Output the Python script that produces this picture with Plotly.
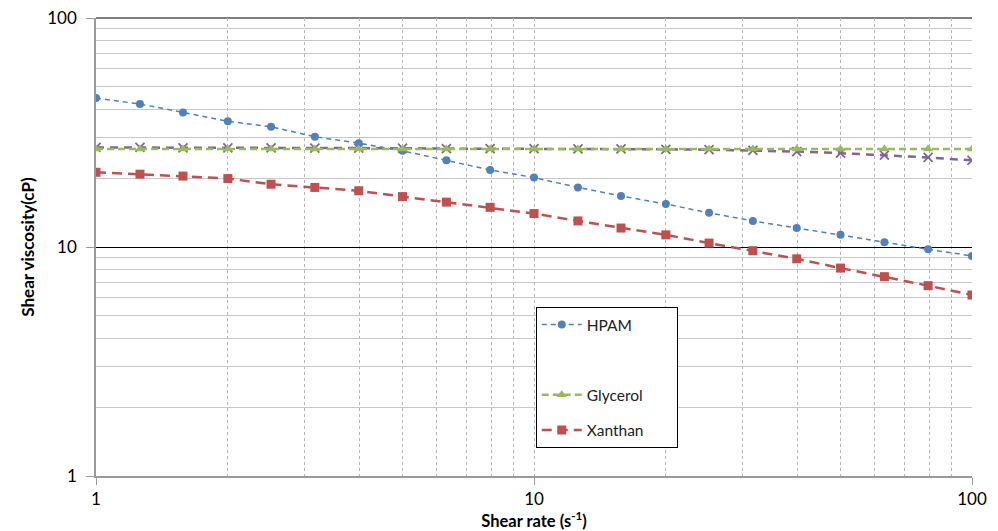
import plotly.graph_objects as go

shear_rate = [1, 1.26, 1.58, 2, 2.51, 3.16, 3.98, 5.01, 6.31, 7.94, 10,
              12.6, 15.8, 20, 25.1, 31.6, 39.8, 50.1, 63.1, 79.4, 100]
hpam = [44.7, 42.1, 38.7, 35.4, 33.5, 30.3, 28.4, 26.3, 23.9, 21.7, 20.1,
        18.2, 16.7, 15.4, 14.1, 13.0, 12.1, 11.3, 10.5, 9.77, 9.14]
xanthan = [21.2, 20.8, 20.4, 19.9, 18.8, 18.2, 17.6, 16.6, 15.7, 14.9, 14.0,
           13.0, 12.1, 11.3, 10.4, 9.64, 8.88, 8.09, 7.42, 6.78, 6.17]
glycerol = [26.8, 26.8, 26.8, 26.8, 26.8, 26.8, 26.8, 26.8, 26.8, 26.8, 26.8,
            26.8, 26.8, 26.8, 26.8, 26.8, 26.8, 26.8, 26.8, 26.8, 26.8]
other = [27.2, 27.2, 27.1, 27.1, 27.1, 27.0, 27.0, 27.0, 26.9, 26.9, 26.9,
         26.8, 26.8, 26.7, 26.6, 26.4, 26.1, 25.7, 25.2, 24.6, 23.9]

FONT = "Lato"
NB = "\u00a0"

fig = go.Figure()
fig.add_trace(go.Scatter(x=shear_rate, y=other, mode="lines+markers", name="",
                         showlegend=False,
                         line=dict(color="#8064A2", width=2.5, dash="8px,6px"),
                         marker=dict(symbol="x-thin", size=9,
                                     line=dict(color="#8064A2", width=1.8))))
fig.add_trace(go.Scatter(x=shear_rate, y=hpam, mode="lines+markers", name="HPAM" + NB * 10,
                         legendgroup="a",
                         line=dict(color="#4F81BD", width=1.5, dash="5px,4px"),
                         marker=dict(symbol="circle", size=8, color="#4F81BD")))
fig.add_trace(go.Scatter(x=[1], y=[1], mode="lines", name=NB, legendgroup="b",
                         line=dict(color="rgba(0,0,0,0)", width=1), hoverinfo="skip"))
fig.add_trace(go.Scatter(x=shear_rate, y=glycerol, mode="lines+markers", name="Glycerol",
                         legendgroup="c",
                         line=dict(color="#9BBB59", width=2.5, dash="7px,4px"),
                         marker=dict(symbol="triangle-up", size=9, color="#9BBB59")))
fig.add_trace(go.Scatter(x=shear_rate, y=xanthan, mode="lines+markers", name="Xanthan",
                         legendgroup="d",
                         line=dict(color="#C0504D", width=2.5, dash="10px,6px"),
                         marker=dict(symbol="square", size=9, color="#C0504D")))

fig.update_layout(
    width=998, height=531,
    margin=dict(l=96, r=26, t=18, b=55, autoexpand=False),
    paper_bgcolor="white", plot_bgcolor="white",
    font=dict(family=FONT, size=17, color="#000000"),
    legend=dict(x=0.502, y=0.369, xanchor="left", yanchor="top",
                bordercolor="#000000", borderwidth=1, bgcolor="white",
                font=dict(family=FONT, size=15.5, color="#222222"),
                traceorder="grouped", tracegroupgap=12,
                itemwidth=40),
)
fig.update_xaxes(
    type="log", range=[0, 2], tickvals=[1, 10, 100], ticktext=["1", "10", "100"],
    showgrid=True, gridcolor="#b8b8b8", griddash="dot", gridwidth=1,
    minor=dict(showgrid=True, gridcolor="#b8b8b8", griddash="dot", gridwidth=1,
               tickvals=[2, 3, 4, 5, 6, 7, 8, 9, 20, 30, 40, 50, 60, 70, 80, 90]),
    showline=True, linecolor="#9a9a9a", linewidth=1.5,
    ticks="outside", ticklen=7, tickcolor="#9a9a9a",
    zeroline=False, automargin=False,
    title=dict(text="<b>Shear rate (s<sup>-1</sup>)</b>", font=dict(size=16.5, family=FONT),
               standoff=6),
)
fig.update_yaxes(
    type="log", range=[0, 2], tickvals=[1, 10, 100], ticktext=["1", "10", "100"],
    showgrid=True, gridcolor="#000000", gridwidth=1,
    minor=dict(showgrid=True, gridcolor="#c8c8c8", gridwidth=1,
               tickvals=[2, 3, 4, 5, 6, 7, 8, 9, 20, 30, 40, 50, 60, 70, 80, 90]),
    showline=True, linecolor="#9a9a9a", linewidth=1.5,
    ticks="outside", ticklen=8, tickcolor="#9a9a9a",
    ticklabelstandoff=6,
    zeroline=False, automargin=False,
    title=dict(text="<b>Shear viscosity(cP)</b>", font=dict(size=17, family=FONT),
               standoff=8),
)
fig.add_shape(type="line", xref="paper", yref="paper", x0=0, x1=1, y0=1, y1=1,
              line=dict(color="#000000", width=1), layer="below")

fig.write_html("out.html")
